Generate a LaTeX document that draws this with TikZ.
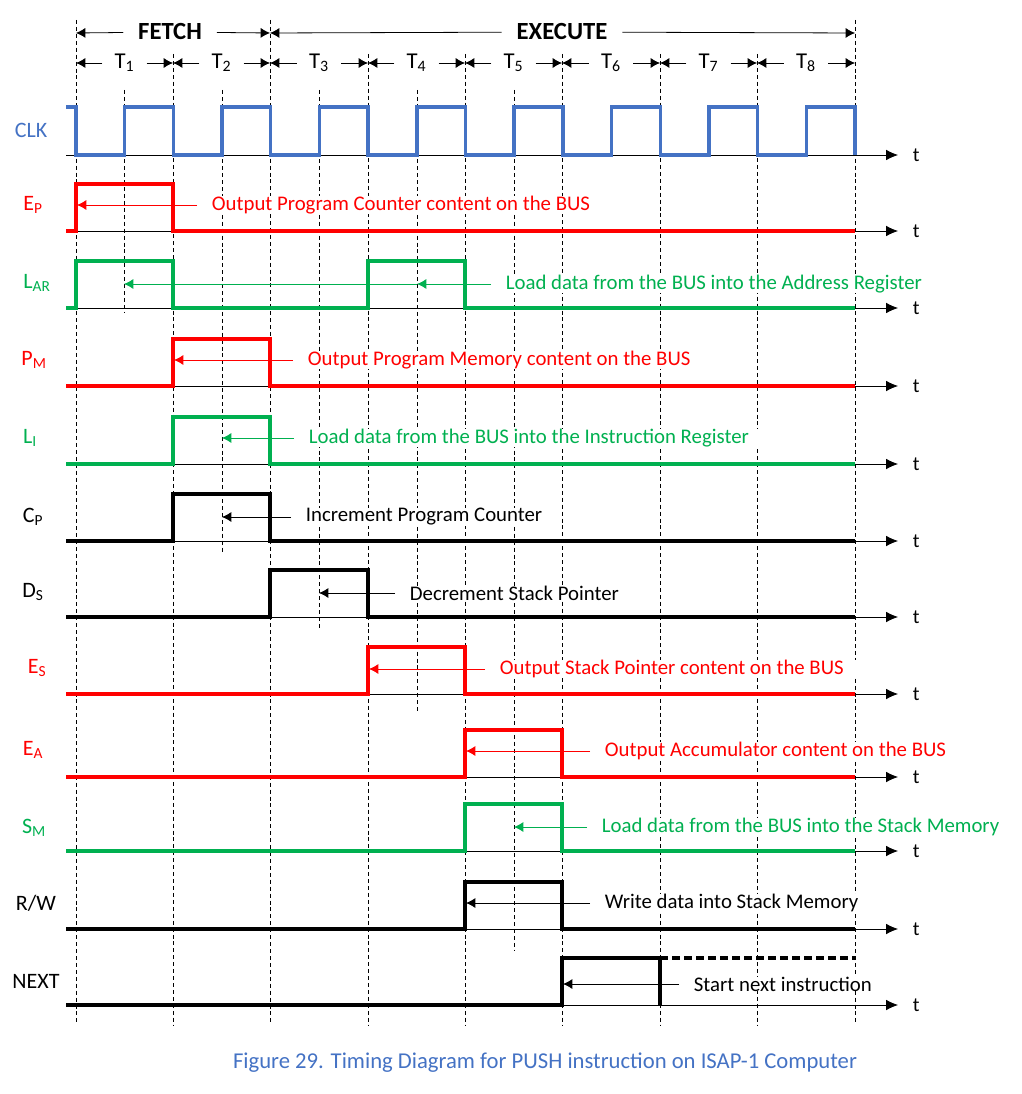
\documentclass[tikz,border=0pt]{standalone}
\usepackage{fontspec}
\setmainfont{Carlito}
\usetikzlibrary{arrows.meta,calc}

\definecolor{clkblue}{RGB}{68,114,196}
\definecolor{sigred}{RGB}{255,0,0}
\definecolor{siggreen}{RGB}{0,176,80}

\tikzset{
		grid/.style    = {black, line width=0.6pt, dash pattern=on 3pt off 2.2pt},
		wave/.style    = {line width=2.6pt, line join=miter},
		axis/.style    = {black, line width=0.6pt, -{Latex[length=9pt,width=8pt]}},
		ann/.style     = {line width=0.6pt, -{Latex[length=7pt,width=7.5pt]}},
		phase/.style   = {font=\fontsize{18.5}{22}\selectfont\bfseries, inner xsep=11pt, inner ysep=0pt, fill=white},
		tick/.style    = {font=\fontsize{17}{20}\selectfont, inner xsep=9pt, inner ysep=0pt},
		siglab/.style  = {font=\fontsize{16.5}{19}\selectfont, inner sep=0pt},
		note/.style    = {anchor=west, inner xsep=11pt, inner ysep=0pt, fill=white, font=\fontsize{15.6}{18}\selectfont},
		tlab/.style    = {anchor=west, inner xsep=11pt, inner ysep=0pt, font=\fontsize{15}{18}\selectfont}
	}

% one pulse on a signal line: colour, low level, rising edge, falling edge
\newcommand{\pulsewave}[4]{%
	\draw[wave,#1] (66,#2) -- (#3,#2) -- (#3,#2-47) -- (#4,#2-47) -- (#4,#2) -- (855,#2);}

\begin{document}
\begin{tikzpicture}[x=0.75pt, y=-0.75pt]
	\useasboundingbox (0,0) rectangle (1021,1094);

	% time grid
	\foreach \x in {76,270,855} \draw[grid] (\x,20) -- (\x,1025);
	\foreach \x in {173,368,465,562,660,757} \draw[grid] (\x,54) -- (\x,1025);
	\foreach \x/\e in {124/312,222/553,319/628,417/712,514/950} \draw[grid] (\x,90) -- (\x,\e);

	\foreach \i/\x in {0/76,1/173,2/270,3/368,4/465,5/562,6/660,7/757,8/855} {
		\coordinate (b\i) at (\x,33);
		\coordinate (c\i) at (\x,63);
	}

	% phases
	\node[phase] (fetch) at (170,32) {FETCH};
	\draw[ann] (fetch) -- (b0);
	\draw[ann] (fetch) -- (b2);
	\node[phase] (execute) at (562,32) {EXECUTE};
	\draw[ann] (execute) -- (b2);
	\draw[ann] (execute) -- (b8);

	% T states
	\foreach \i/\l in {1/0,2/1,3/2,4/3,5/4,6/5,7/6,8/7} {
		\node[tick] (T\i) at ($(c\l)!0.5!(c\i)$) {T\textsubscript{\i}};
		\draw[ann] (T\i) -- (c\l);
		\draw[ann] (T\i) -- (c\i);
	}

	% time axes
	\foreach \y/\n in {155/CLK,231/EP,308/LAR,386/PM,464/LI,541/CP,617/DS,694/ES,777/EA,851/SM,929/RW,1005/NEXT} {
		\node[tlab] (t\n) at (898,\y) {t};
		\draw[axis] (66,\y) -- (t\n.west);
	}

	% signal names
	\node[siglab, text=clkblue]  (sCLK)  at (31,130) {CLK};
	\node[siglab, text=sigred]   (sEP)   at (33,205) {E\textsubscript{P}};
	\node[siglab, text=siggreen] (sLAR)  at (37,283) {L\textsubscript{AR}};
	\node[siglab, text=sigred]   (sPM)   at (34,360) {P\textsubscript{M}};
	\node[siglab, text=siggreen] (sLI)   at (30,438) {L\textsubscript{I}};
	\node[siglab]                (sCP)   at (33,517) {C\textsubscript{P}};
	\node[siglab]                (sDS)   at (33,592) {D\textsubscript{S}};
	\node[siglab, text=sigred]   (sES)   at (37,668) {E\textsubscript{S}};
	\node[siglab, text=sigred]   (sEA)   at (33,750) {E\textsubscript{A}};
	\node[siglab, text=siggreen] (sSM)   at (34,828) {S\textsubscript{M}};
	\node[siglab]                (sRW)   at (36,903) {R/W};
	\node[siglab]                (sNEXT) at (36,981) {NEXT};

	% waveforms
	\draw[wave,clkblue] (66,107) foreach \i in {0,...,7} {
		-- (76+97.375*\i,107) -- (76+97.375*\i,155) -- (124.7+97.375*\i,155) -- (124.7+97.375*\i,107)}
		-- (855,107) -- (855,155);
	\pulsewave{sigred}{231}{76}{173}
	\draw[wave,siggreen] (66,308) -- (76,308) -- (76,261) -- (173,261) -- (173,308) -- (368,308)
		-- (368,261) -- (465,261) -- (465,308) -- (855,308);
	\pulsewave{sigred}{386}{173}{270}
	\pulsewave{siggreen}{464}{173}{270}
	\pulsewave{black}{541}{173}{270}
	\pulsewave{black}{617}{270}{368}
	\pulsewave{sigred}{694}{368}{465}
	\pulsewave{sigred}{777}{465}{562}
	\pulsewave{siggreen}{851}{465}{562}
	\pulsewave{black}{929}{465}{562}
	\draw[wave] (66,1005) -- (562,1005) -- (562,958) -- (660,958) -- (660,1005);
	\draw[wave, dash pattern=on 6pt off 3pt] (660,958) -- (855,958);

	% arrow targets
	\coordinate (aEP)   at (77,205);
	\coordinate (aLAR2) at (417,284);
	\coordinate (aLAR)  at (124,284);
	\coordinate (aPM)   at (174,360);
	\coordinate (aLI)   at (222,438);
	\coordinate (aCP)   at (222,517);
	\coordinate (aDS)   at (319,593);
	\coordinate (aES)   at (369,669);
	\coordinate (aEA)   at (466,751);
	\coordinate (aSM)   at (514,827);
	\coordinate (aRW)   at (466,903);
	\coordinate (aNEXT) at (563,984);

	% descriptions
	\node[note, text=sigred]   (nEP)   at (197,205) {Output Program Counter content on the BUS};
	\node[note, text=siggreen] (nLAR)  at (491,284) {Load data from the BUS into the Address Register};
	\node[note, text=sigred]   (nPM)   at (293,360) {Output Program Memory content on the BUS};
	\node[note, text=siggreen] (nLI)   at (294,438) {Load data from the BUS into the Instruction Register};
	\node[note]                (nCP)   at (291,517) {Increment Program Counter};
	\node[note]                (nDS)   at (395,593) {Decrement Stack Pointer};
	\node[note, text=sigred]   (nES)   at (485,669) {Output Stack Pointer content on the BUS};
	\node[note, text=sigred]   (nEA)   at (590,751) {Output Accumulator content on the BUS};
	\node[note, text=siggreen] (nSM)   at (587,827) {Load data from the BUS into the Stack Memory};
	\node[note]                (nRW)   at (590,903) {Write data into Stack Memory};
	\node[note]                (nNEXT) at (679,984) {Start next instruction};

	\draw[ann, sigred]   (nEP.west)  -- (aEP);
	\draw[ann, siggreen] (nLAR.west) -- (aLAR2);
	\draw[ann, siggreen] (aLAR2)     -- (aLAR);
	\draw[ann, sigred]   (nPM.west)  -- (aPM);
	\draw[ann, siggreen] (nLI.west)  -- (aLI);
	\draw[ann]           (nCP.west)  -- (aCP);
	\draw[ann]           (nDS.west)  -- (aDS);
	\draw[ann, sigred]   (nES.west)  -- (aES);
	\draw[ann, sigred]   (nEA.west)  -- (aEA);
	\draw[ann, siggreen] (nSM.west)  -- (aSM);
	\draw[ann]           (nRW.west)  -- (aRW);
	\draw[ann]           (nNEXT.west) -- (aNEXT);

	\node[text=clkblue, font=\fontsize{17}{20}\selectfont] (cap) at (545,1063)
		{Figure 29. Timing Diagram for PUSH instruction on ISAP-1 Computer};
\end{tikzpicture}
\end{document}
